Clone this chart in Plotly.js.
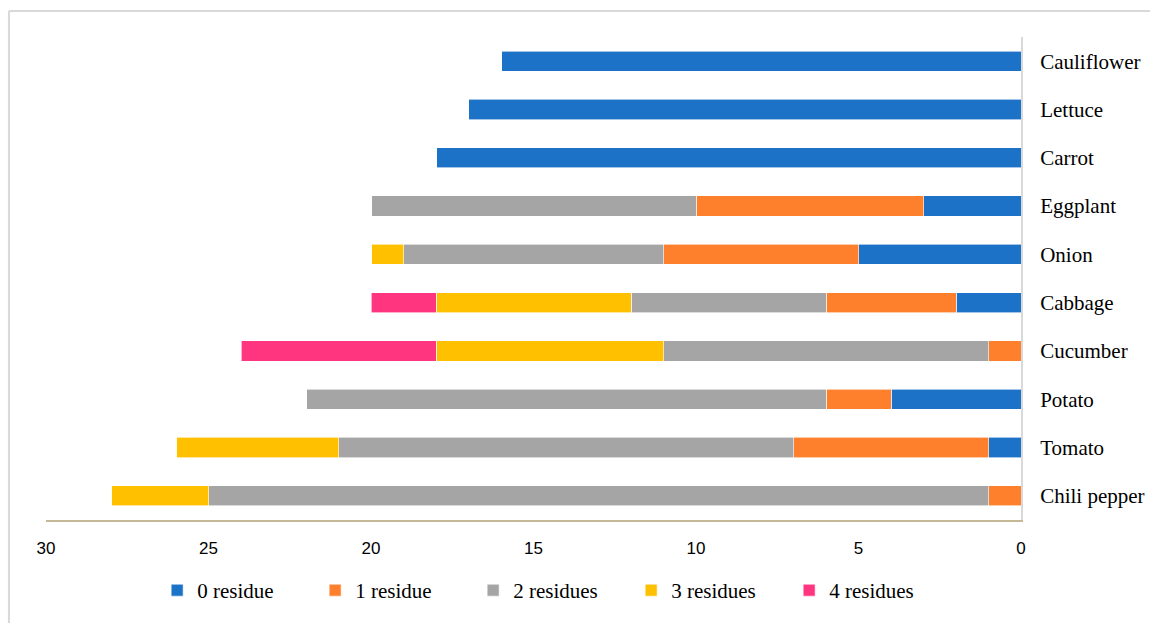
<!DOCTYPE html>
<html>
<head>
<meta charset="utf-8">
<script src="https://cdn.plot.ly/plotly-3.0.1.min.js"></script>
<style>html,body{margin:0;padding:0;background:#fff;}#chart{width:1150px;height:623px;}</style>
</head>
<body>
<div id="chart"></div>
<script>
const categories = ["Chili pepper","Tomato","Potato","Cucumber","Cabbage","Onion","Eggplant","Carrot","Lettuce","Cauliflower"];
const seriesNames = ["0 residue","1 residue","2 residues","3 residues","4 residues"];
const residue0 = [0, 1, 4, 0, 2, 5, 3, 18, 17, 16];
const residue1 = [1, 6, 2, 1, 4, 6, 7, 0, 0, 0];
const residue2 = [24, 14, 16, 10, 6, 8, 10, 0, 0, 0];
const residue3 = [3, 5, 0, 7, 6, 1, 0, 0, 0, 0];
const residue4 = [0, 0, 0, 6, 2, 0, 0, 0, 0, 0];
const xTicks = [0, 5, 10, 15, 20, 25, 30];

const colors = ["#1B72C6", "#FE7F2C", "#A5A5A5", "#FFC000", "#FF3580"];
const allSeries = [residue0, residue1, residue2, residue3, residue4];

const traces = allSeries.map((vals, i) => ({
  type: "bar",
  orientation: "h",
  name: seriesNames[i],
  y: categories,
  x: vals,
  marker: {color: colors[i], line: {color: "#ffffff", width: 0.6}},
  hoverinfo: "x+y+name"
}));

const layout = {
  width: 1150, height: 623,
  margin: {l: 46, r: 129, t: 37, b: 101},
  paper_bgcolor: "#fff", plot_bgcolor: "#fff",
  barmode: "stack",
  bargap: 0.58,
  showlegend: true,
  xaxis: {
    range: [30, 0],
    tickvals: xTicks,
    ticktext: xTicks.map(String),
    showgrid: false, zeroline: false,
    showline: true, linecolor: "#C4B896", linewidth: 2,
    ticks: "", ticklabelstandoff: 12,
    tickfont: {family: "Liberation Sans, Arial, sans-serif", size: 17, color: "#000"}
  },
  yaxis: {
    side: "right",
    type: "category",
    categoryorder: "array", categoryarray: categories,
    showgrid: false, zeroline: false,
    showline: true, linecolor: "#D9D9D9", linewidth: 2,
    ticks: "", ticklabelstandoff: 13,
    tickfont: {family: "Liberation Serif, Times New Roman, serif", size: 21, color: "#000"}
  },
  legend: {
    orientation: "h",
    x: 0.114, xanchor: "left",
    y: -0.146, yanchor: "middle",
    font: {family: "Liberation Serif, Times New Roman, serif", size: 21, color: "#000"},
    entrywidth: 113, entrywidthmode: "pixels",
    itemwidth: 30,
    traceorder: "normal"
  },
  shapes: [
    {type: "line", xref: "paper", yref: "paper", x0: -0.038, x1: 1.14, y0: 1.0536, y1: 1.0536, line: {color: "#D9D9D9", width: 2}},
    {type: "line", xref: "paper", yref: "paper", x0: -0.038, x1: -0.038, y0: 1.0536, y1: -0.22, line: {color: "#D9D9D9", width: 2}}
  ]
};

Plotly.newPlot("chart", traces, layout, {displayModeBar: false, responsive: false});
</script>
</body>
</html>
